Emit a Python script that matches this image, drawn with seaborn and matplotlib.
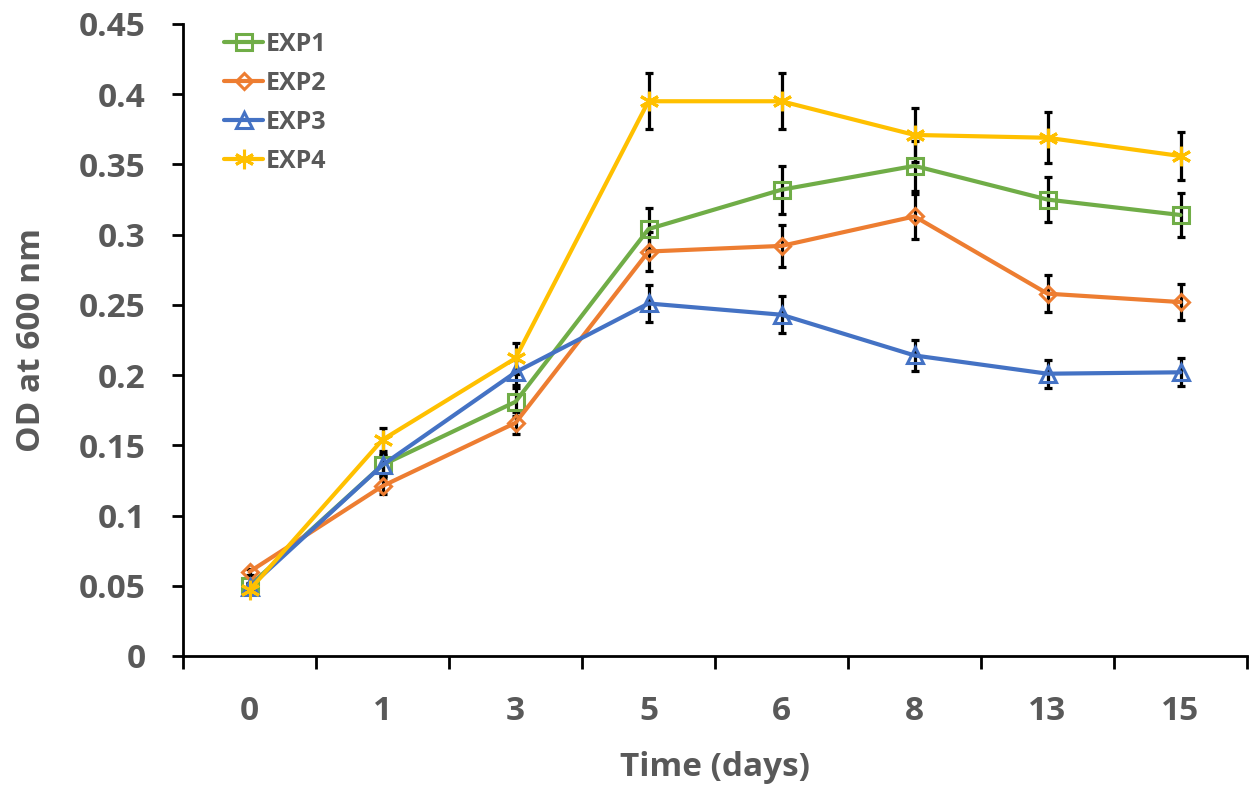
import matplotlib
matplotlib.use("Agg")
import matplotlib.pyplot as plt
import seaborn as sns
import pandas as pd
import numpy as np
from matplotlib.ticker import FixedLocator

days = ["0", "1", "3", "5", "6", "8", "13", "15"]
series_names = ["EXP1", "EXP2", "EXP3", "EXP4"]

exp1 = [0.050, 0.136, 0.181, 0.304, 0.332, 0.349, 0.325, 0.314]
exp2 = [0.060, 0.121, 0.166, 0.288, 0.292, 0.313, 0.258, 0.252]
exp3 = [0.049, 0.136, 0.202, 0.251, 0.243, 0.214, 0.201, 0.202]
exp4 = [0.047, 0.154, 0.212, 0.395, 0.395, 0.371, 0.369, 0.356]

err1 = [0.002, 0.008, 0.010, 0.015, 0.017, 0.018, 0.016, 0.016]
err2 = [0.002, 0.006, 0.008, 0.014, 0.015, 0.016, 0.013, 0.013]
err3 = [0.002, 0.007, 0.009, 0.013, 0.013, 0.011, 0.010, 0.010]
err4 = [0.002, 0.008, 0.011, 0.020, 0.020, 0.019, 0.018, 0.017]

values = [exp1, exp2, exp3, exp4]
errors = [err1, err2, err3, err4]
colors = ["#70AD47", "#ED7D31", "#4472C4", "#FFC000"]
markers = ["s", "D", "^", (6, 2, 0)]
msizes = [11, 8, 11, 14]
mfaces = ["none", "none", "none", "#FFC000"]

y_ticks = [0, 0.05, 0.1, 0.15, 0.2, 0.25, 0.3, 0.35, 0.4, 0.45]
y_tick_labels = ["0", "0.05", "0.1", "0.15", "0.2", "0.25", "0.3", "0.35", "0.4", "0.45"]

rows = []
for name, vals in zip(series_names, values):
    for i, (d, v) in enumerate(zip(days, vals)):
        rows.append({"idx": i, "day": d, "od": v, "series": name})
df = pd.DataFrame(rows)

sns.set_style("white")
plt.rcParams["font.family"] = ["Open Sans", "DejaVu Sans"]
plt.rcParams["font.weight"] = "bold"

fig = plt.figure(figsize=(12.55, 7.93), dpi=100)
ax = fig.add_axes([183 / 1255, 1 - 656 / 793, (1247 - 183) / 1255, (656 - 24) / 793])

text_color = "#595959"
for k, name in enumerate(series_names):
    sub = df[df["series"] == name]
    ax.errorbar(np.arange(len(days)), values[k], yerr=errors[k], fmt="none",
                ecolor="black", elinewidth=2.3, capsize=3, capthick=2.3, zorder=1.5)
    sns.lineplot(data=sub, x="idx", y="od", ax=ax, color=colors[k], linewidth=3,
                 marker=markers[k], markersize=msizes[k], markerfacecolor=mfaces[k],
                 markeredgecolor=colors[k], markeredgewidth=2.2, label=name, zorder=2)

ax.set_xlim(-0.5, len(days) - 0.5)
ax.set_ylim(0, 0.45)
ax.set_xticks(range(len(days)))
ax.set_xticklabels(days)
ax.xaxis.set_minor_locator(FixedLocator(np.arange(-0.5, len(days), 1.0)))
ax.tick_params(axis="x", which="major", bottom=True, length=0, pad=28, labelsize=24,
               labelcolor=text_color)
ax.tick_params(axis="x", which="minor", bottom=True, length=9, width=2, direction="out",
               color="black")
ax.set_yticks(y_ticks)
ax.set_yticklabels(y_tick_labels)
ax.tick_params(axis="y", left=True, length=8, width=2, direction="out", color="black",
               pad=19, labelsize=24, labelcolor=text_color)
for lbl in ax.get_xticklabels() + ax.get_yticklabels():
    lbl.set_fontweight("bold")

for s in ["top", "right"]:
    ax.spines[s].set_visible(False)
for s in ["left", "bottom"]:
    ax.spines[s].set_linewidth(2)
    ax.spines[s].set_color("black")

ax.set_xlabel("Time (days)", fontsize=24, fontweight="bold", color=text_color, labelpad=17)
ax.set_ylabel("OD at 600 nm", fontsize=24, fontweight="bold", color=text_color, labelpad=22)

leg = ax.legend(loc="upper left", bbox_to_anchor=(0.039, 0.988), frameon=False,
                fontsize=18, handlelength=1.55, handletextpad=0.1, labelspacing=0.56,
                borderaxespad=0.0, borderpad=0.0)
for t in leg.get_texts():
    t.set_color(text_color)
    t.set_fontweight("bold")

fig.savefig("out.png", dpi=100)
